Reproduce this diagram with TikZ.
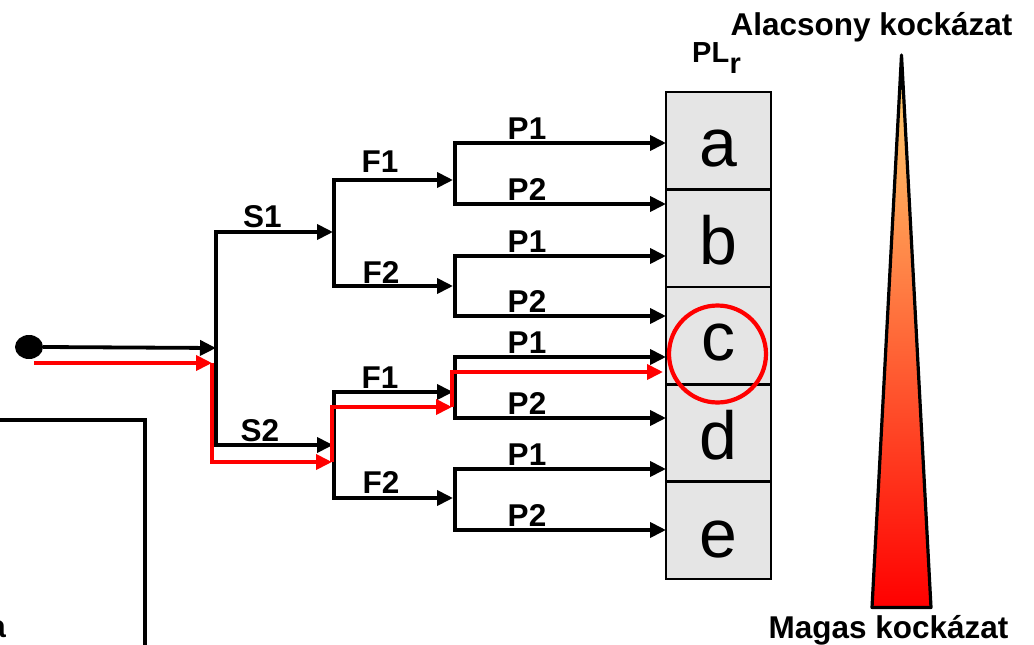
\documentclass[tikz,border=0pt]{standalone}
\usepackage{fontspec}
\setmainfont{Liberation Sans}
\usetikzlibrary{arrows.meta,shapes.geometric}
\definecolor{celgray}{HTML}{E5E5E5}
\definecolor{toporange}{RGB}{255,214,115}
\definecolor{midorange}{RGB}{255,160,80}
\definecolor{botred}{RGB}{255,0,0}
\tikzset{
  lab/.style={font=\fontsize{31.5}{36}\selectfont\bfseries, inner sep=0pt, anchor=base},
  ln/.style={line width=3.8pt},
  arr/.style={ln, -{Triangle[length=16pt,width=15pt]}},
  rarr/.style={arr, red},
  cellbox/.style={draw, line width=2.6pt, fill=celgray, minimum width=105pt, minimum height=97.4pt, inner sep=0pt, outer sep=0pt},
  letter/.style={font=\fontsize{68}{70}\selectfont, inner sep=0pt, anchor=base},
}
\begin{document}
\begin{tikzpicture}[x=1pt,y=-1pt]
\useasboundingbox (0,0) rectangle (1034,645);

% result cells
\node[cellbox] (cellA) at (718.5,140.7) {};
\node[cellbox] (cellB) at (718.5,238.1) {};
\node[cellbox] (cellC) at (718.5,335.5) {};
\node[cellbox] (cellD) at (718.5,432.9) {};
\node[cellbox] (cellE) at (718.5,530.3) {};
\node[letter] (la) at (718.5,166) {a};
\node[letter] (lb) at (718.5,264) {b};
\node[letter] (lc) at (718.5,360) {c};
\node[letter] (ld) at (718.5,459) {d};
\node[letter] (le) at (718.5,557) {e};

% start dot
\node[fill, ellipse, minimum width=28pt, minimum height=24pt, inner sep=0pt] (dot) at (29,347) {};

% junction coordinates
\coordinate (j0) at (216,348);
\coordinate (s1a) at (216,232);
\coordinate (s1b) at (333,232);
\coordinate (s2a) at (216,445);
\coordinate (s2b) at (333,445);

\coordinate (f1a) at (334,180);
\coordinate (f1b) at (453,180);
\coordinate (f2a) at (334,286);
\coordinate (f2b) at (453,286);
\coordinate (f3a) at (334,392);
\coordinate (f3b) at (453,392);
\coordinate (f4a) at (334,498);
\coordinate (f4b) at (453,498);

\coordinate (g1t) at (455,143);
\coordinate (g1b) at (455,204);
\coordinate (g2t) at (455,256);
\coordinate (g2b) at (455,316);
\coordinate (g3t) at (455,357);
\coordinate (g3b) at (455,418);
\coordinate (g4t) at (455,469);
\coordinate (g4b) at (455,530);

% black tree
\draw[arr] (dot.east) -- (j0);
\draw[arr] (s2a) -- (s1a) -- (s1b);
\draw[arr] (s1a) -- (s2a) -- (s2b);

\draw[arr] (f2a) -- (f1a) -- (f1b);
\draw[arr] (f1a) -- (f2a) -- (f2b);
\draw[arr] (f4a) -- (f3a) -- (f3b);
\draw[arr] (f3a) -- (f4a) -- (f4b);

\foreach \g in {g1,g2,g3,g4}{
  \draw[arr] (\g b) -- (\g t) -- (\g t -| cellA.west);
  \draw[arr] (\g t) -- (\g b) -- (\g b -| cellA.west);
}

% labels
\node[lab] (ls1) at (262.5,227) {S1};
\node[lab] (ls2) at (260,441) {S2};
\node[lab] (lf1) at (380,172) {F1};
\node[lab] (lf2) at (381,283) {F2};
\node[lab] (lf3) at (380,388) {F1};
\node[lab] (lf4) at (381,493) {F2};
\node[lab] (p11) at (527,139) {P1};
\node[lab] (p12) at (527,200) {P2};
\node[lab] (p21) at (527,252) {P1};
\node[lab] (p22) at (527,312) {P2};
\node[lab] (p31) at (527,353) {P1};
\node[lab] (p32) at (527,414) {P2};
\node[lab] (p41) at (527,465) {P1};
\node[lab] (p42) at (527,526) {P2};

% red path
\coordinate (r0) at (34,363);
\coordinate (r1) at (212,363);
\coordinate (r2) at (332,462);
\coordinate (r3) at (452,407);
\coordinate (r4) at (663,372);
\draw[rarr] (r0) -- (r1);
\draw[rarr] (r1) |- (r2);
\draw[rarr] (r2) |- (r3);
\draw[rarr] (r3) |- (r4);

% ring around c
\node[draw=red, line width=4.2pt, circle, minimum size=97pt, inner sep=0pt] (ring) at (717.5,354) {};

% PL_r
\node[font=\fontsize{29}{32}\selectfont\bfseries, inner sep=0pt, anchor=base west] (pl) at (692,62) {PL};
\node[font=\fontsize{29}{32}\selectfont\bfseries, inner sep=0pt, anchor=base west] (plr) at (pl.base east) [yshift=-11pt] {r};

% risk triangle
\coordinate (apex) at (901.5,55);
\coordinate (bl) at (872,607.5);
\coordinate (br) at (931,607.5);
\draw[line width=3.2pt, line join=round, top color=toporange, middle color=midorange, bottom color=botred] (apex) -- (br) -- (bl) -- cycle;
\node[lab] (low) at (871.5,35) {Alacsony kockázat};
\node[lab] (high) at (888.5,638) {Magas kockázat};

% bottom-left partial box
\coordinate (bx0) at (-5,420);
\coordinate (bx1) at (145,420);
\coordinate (bx2) at (145,650);
\draw[ln] (bx0) -- (bx1) -- (bx2);
\node[lab, anchor=base east] (cut) at (6,637) {a};
\end{tikzpicture}
\end{document}
